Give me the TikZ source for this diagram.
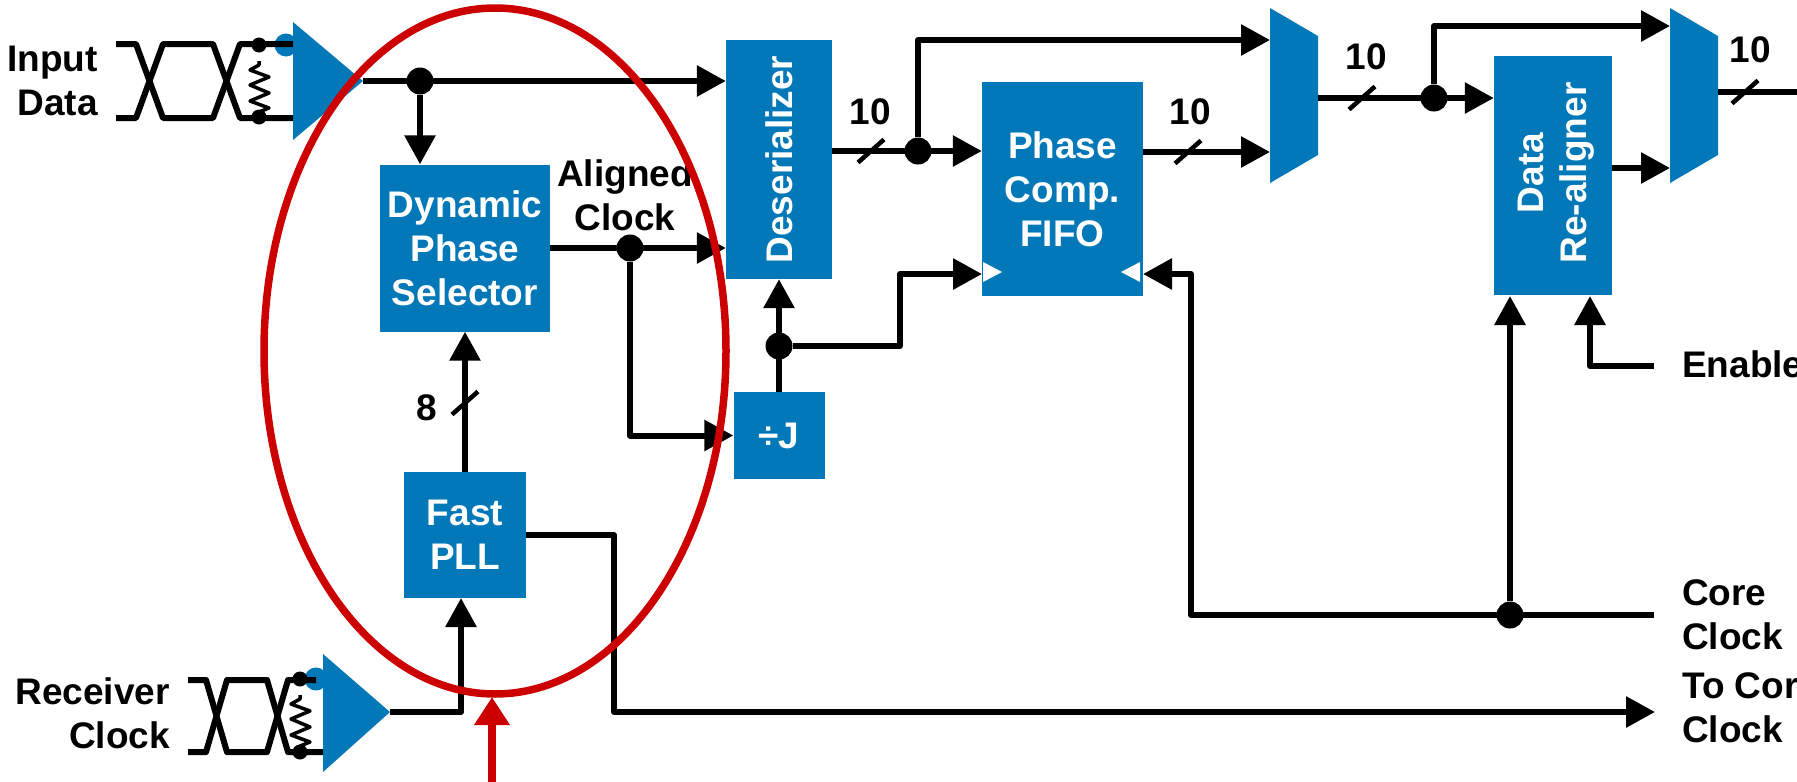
\documentclass[tikz,border=0pt]{standalone}
\usepackage{fontspec}
\setmainfont{Liberation Sans}
\usetikzlibrary{arrows.meta}
\definecolor{ioblue}{RGB}{3,120,184}
\definecolor{markred}{RGB}{204,0,0}
\tikzset{
  blockbox/.style={fill=ioblue, text=white, inner sep=0pt, align=center, font=\fontsize{37}{44}\selectfont\bfseries},
  sigtext/.style={inner sep=0pt, font=\fontsize{37}{44}\selectfont\bfseries},
  sigline/.style={line width=6pt, line join=round},
  sigarrow/.style={sigline, -{Triangle[length=29pt,width=30pt]}},
  dotnode/.style={circle, fill=black, inner sep=0pt, minimum size=#1},
  dotnode/.default=27pt,
  resistor/.pic={
    \draw[line width=3.5pt, line join=round] (0,16) -- (0,20) -- (-9,25) -- (10,32) -- (-9,40) -- (10,48) -- (-9,56) -- (10,63) -- (0,67) -- (0,72);
  }
}
\begin{document}
\begin{tikzpicture}[x=1pt, y=-1pt]
  \useasboundingbox (0,0) rectangle (1797,782);

  % blocks
  \node[blockbox, minimum width=106pt, minimum height=239pt] (deser) at (779,159.5) {\rotatebox{90}{Deserializer}};
  \node[blockbox, minimum width=170pt, minimum height=167pt] (selector) at (465,248) {Dynamic\\Phase\\Selector};
  \node[blockbox, minimum width=122pt, minimum height=126pt] (pll) at (465,535) {Fast\\PLL};
  \node[blockbox, minimum width=91pt, minimum height=87pt] (divj) at (779,435.5) {÷J};
  \node[blockbox, minimum width=161pt, minimum height=214pt] (fifo) at (1062.5,189) {Phase\\Comp.\\FIFO};
  \node[blockbox, minimum width=118pt, minimum height=239pt] (realign) at (1553,175.5) {\hspace*{6pt}\raisebox{5pt}{\rotatebox{90}{\begin{tabular}{@{}c@{}}Data\\[-1pt]Re-aligner\end{tabular}}}};
  \fill[white] (983,262) -- (1002,272) -- (983,282) -- cycle;
  \fill[white] (1140,262) -- (1121,272) -- (1140,282) -- cycle;

  % muxes
  \foreach \x in {1270,1670}
    \fill[ioblue] (\x,8) -- (\x+48,36) -- (\x+48,155) -- (\x,183) -- cycle;
  \coordinate (muxain) at (1270,40);
  \coordinate (muxbin) at (1270,152);
  \coordinate (muxout) at (1318,98);
  \coordinate (mux2ain) at (1670,26);
  \coordinate (mux2bin) at (1670,168);
  \coordinate (mux2out) at (1718,92);
  \coordinate (dataend) at (1797,92);

  % input buffers
  \fill[ioblue] (286,45) circle (11.5);
  \fill[ioblue] (293,22) -- (363,81) -- (293,140) -- cycle;
  \fill[ioblue] (316,679) circle (11.5);
  \fill[ioblue] (323,654) -- (390,712) -- (323,772) -- cycle;
  \coordinate (datatip) at (363,81);
  \coordinate (clktip) at (390,712);

  % eye patterns
  \draw[sigline] (116,44) -- (136,44) -- (163,118) -- (213,118) -- (240,44) -- (293,44);
  \draw[sigline] (116,118) -- (136,118) -- (163,44) -- (213,44) -- (240,118) -- (293,118);
  \draw[sigline] (188,680) -- (206,680) -- (227,752) -- (267,752) -- (288,680) -- (316,680);
  \draw[sigline] (188,752) -- (206,752) -- (227,680) -- (267,680) -- (288,752) -- (323,752);
  \pic at (259,45) {resistor};
  \pic at (300,679) {resistor};
  \node[dotnode=15pt] (datap) at (259,45) {};
  \node[dotnode=15pt] (datan) at (259,117) {};
  \node[dotnode=15pt] (clkp) at (300,679) {};
  \node[dotnode=15pt] (clkn) at (300,752) {};

  % data path
  \node[dotnode] (indot) at (420,81) {};
  \node[dotnode] (dedot) at (918,151) {};
  \node[dotnode] (muxdot) at (1434,98) {};
  \draw[sigarrow] (datatip) -- (datatip -| deser.west);
  \draw[sigarrow] (indot) -- (indot |- selector.north);
  \draw[sigarrow] (dedot -| deser.east) -- (dedot -| fifo.west);
  \draw[sigarrow] (dedot) |- (muxain);
  \draw[sigarrow] (fifo.east |- muxbin) -- (muxbin);
  \draw[sigarrow] (muxout) -- (muxout -| realign.west);
  \draw[sigarrow] (muxdot) |- (mux2ain);
  \draw[sigarrow] (realign.east |- mux2bin) -- (mux2bin);
  \draw[sigline] (mux2out) -- (dataend);

  % clock path
  \node[dotnode] (clkdot) at (630,248) {};
  \node[dotnode] (divdot) at (779,346) {};
  \node[dotnode] (coredot) at (1510,615) {};
  \coordinate (divbend) at (900,346);
  \coordinate (fifoin) at (982,274);
  \coordinate (fifoclk) at (1143,274);
  \coordinate (corebend) at (1191,615);
  \coordinate (coreend) at (1654,615);
  \coordinate (enableend) at (1654,366);
  \coordinate (enablein) at (1590,296);
  \coordinate (corein) at (1510,296);
  \coordinate (pllin) at (461,598);
  \coordinate (pllbend) at (614,535);
  \coordinate (clkout) at (1655,712);
  \draw[sigarrow] (selector.east) -- (selector.east -| deser.west);
  \draw[sigarrow] (clkdot) |- (divj.west);
  \draw[sigarrow] (divj.north) -- (deser.south);
  \draw[sigarrow] (divdot) -- (divbend) |- (fifoin);
  \draw[sigarrow] (coreend) -- (corebend) |- (fifoclk);
  \draw[sigarrow] (coredot) -- (corein);
  \draw[sigarrow] (enableend) -| (enablein);
  \draw[sigarrow] (pll.north) -- (selector.south);
  \draw[sigarrow] (clktip) -| (pllin);
  \draw[sigarrow] (pll.east) -- (pllbend) |- (clkout);

  % bus ticks
  \foreach \x/\y in {871/151, 1188/152, 1362/98, 1745/92, 465/403}
    \draw[line width=4.5pt] (\x-13,\y+11.5) -- (\x+13,\y-11.5);

  % labels
  \node[sigtext, align=right, anchor=east] (datalabel) at (98,81) {Input\\Data};
  \node[sigtext, align=right, anchor=east] (clklabel) at (170,713) {Receiver\\Clock};
  \node[sigtext, align=center] (alignlabel) at (625,195) {Aligned\\Clock};
  \node[sigtext, anchor=west] (enablelabel) at (1682,364) {Enable};
  \node[sigtext, align=left, anchor=west] (corelabel) at (1682,615) {Core\\Clock};
  \node[sigtext, align=left, anchor=west] (tocorelabel) at (1682,708) {To Core\\Clock};
  \node[sigtext] (widtha) at (870,112) {10};
  \node[sigtext] (widthb) at (1190,112) {10};
  \node[sigtext] (widthc) at (1366,57) {10};
  \node[sigtext] (widthd) at (1750,50) {10};
  \node[sigtext] (widthe) at (427,408) {8};

  % highlight
  \draw[line width=7.5pt, markred] (495,351) ellipse [x radius=231, y radius=343];
  \coordinate (marktail) at (492,782);
  \draw[line width=7.5pt, markred, -{Triangle[length=28pt,width=34pt]}] (marktail) -- (492,697);
\end{tikzpicture}
\end{document}
